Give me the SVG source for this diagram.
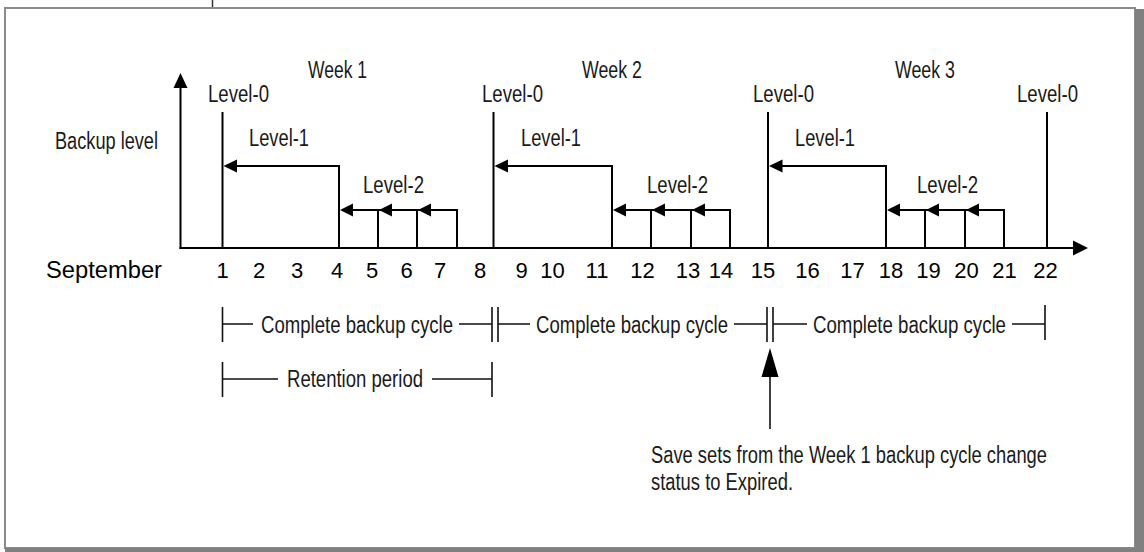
<svg xmlns="http://www.w3.org/2000/svg" width="1144" height="552" viewBox="0 0 1144 552">
<style>
.ln{stroke:#000;stroke-width:2;fill:none}
.ln2{stroke:#111;stroke-width:1.6;fill:none}
.ah{fill:#000;stroke:none}
.c{font-family:"Liberation Sans Narrow","Liberation Sans",Arial,sans-serif;font-size:23px;fill:#1a1a1a}
.n{font-family:"Liberation Sans",Arial,sans-serif;font-size:22px;fill:#000;text-anchor:middle}
</style>
<g id="frame">
<rect x="0" y="0" width="1144" height="552" fill="#fff"/>
<line x1="212.5" y1="0" x2="212.5" y2="7" stroke="#333" stroke-width="1.5"/>
<rect x="5" y="8" width="1130" height="540" fill="#fff" stroke="#8a8a8a" stroke-width="2"/>
<rect x="1135" y="9" width="9" height="543" fill="#808080"/>
<rect x="5" y="548" width="1139" height="4" fill="#808080"/>
</g>
<g id="axes">
<line class="ln" x1="180.5" y1="249" x2="180.5" y2="86"/>
<polygon class="ah" points="180.5,73 173.5,88 187.5,88"/>
<line class="ln" x1="179.5" y1="248" x2="1075" y2="248"/>
<polygon class="ah" points="1088,248 1073,240.5 1073,255.5"/>
<text class="c" x="55" y="149" textLength="103" lengthAdjust="spacingAndGlyphs">Backup level</text>
<text x="46" y="278" font-family="Liberation Sans, Arial, sans-serif" font-size="23" fill="#000" textLength="116" lengthAdjust="spacingAndGlyphs">September</text>
</g>
<g id="days">
<text class="n" x="222.5" y="278">1</text>
<text class="n" x="259" y="278">2</text>
<text class="n" x="297" y="278">3</text>
<text class="n" x="337" y="278">4</text>
<text class="n" x="372" y="278">5</text>
<text class="n" x="406.5" y="278">6</text>
<text class="n" x="440" y="278">7</text>
<text class="n" x="480" y="278">8</text>
<text class="n" x="521.5" y="278">9</text>
<text class="n" x="552.5" y="278">10</text>
<text class="n" x="597" y="278">11</text>
<text class="n" x="642.5" y="278">12</text>
<text class="n" x="688" y="278">13</text>
<text class="n" x="721" y="278">14</text>
<text class="n" x="763" y="278">15</text>
<text class="n" x="807.5" y="278">16</text>
<text class="n" x="852.5" y="278">17</text>
<text class="n" x="891" y="278">18</text>
<text class="n" x="928.5" y="278">19</text>
<text class="n" x="966.5" y="278">20</text>
<text class="n" x="1004.5" y="278">21</text>
<text class="n" x="1045.5" y="278">22</text>
</g>
<g id="week1">
<text class="c" x="308" y="78" textLength="59" lengthAdjust="spacingAndGlyphs">Week 1</text>
<text class="c" x="208" y="102" textLength="61" lengthAdjust="spacingAndGlyphs">Level-0</text>
<text class="c" x="249" y="146" textLength="60" lengthAdjust="spacingAndGlyphs">Level-1</text>
<text class="c" x="363" y="193" textLength="61" lengthAdjust="spacingAndGlyphs">Level-2</text>
</g>
<g id="week2">
<text class="c" x="582" y="78" textLength="60" lengthAdjust="spacingAndGlyphs">Week 2</text>
<text class="c" x="482" y="102" textLength="61" lengthAdjust="spacingAndGlyphs">Level-0</text>
<text class="c" x="521" y="146" textLength="60" lengthAdjust="spacingAndGlyphs">Level-1</text>
<text class="c" x="647" y="193" textLength="61" lengthAdjust="spacingAndGlyphs">Level-2</text>
</g>
<g id="week3">
<text class="c" x="895" y="78" textLength="60" lengthAdjust="spacingAndGlyphs">Week 3</text>
<text class="c" x="753" y="102" textLength="61" lengthAdjust="spacingAndGlyphs">Level-0</text>
<text class="c" x="795" y="146" textLength="60" lengthAdjust="spacingAndGlyphs">Level-1</text>
<text class="c" x="917" y="193" textLength="61" lengthAdjust="spacingAndGlyphs">Level-2</text>
<text class="c" x="1017" y="102" textLength="61" lengthAdjust="spacingAndGlyphs">Level-0</text>
</g>
<g id="connectors">
<line class="ln" x1="222.5" y1="112" x2="222.5" y2="248"/>
<line class="ln" x1="493.5" y1="112" x2="493.5" y2="248"/>
<line class="ln" x1="768" y1="112" x2="768" y2="248"/>
<line class="ln" x1="1047" y1="112" x2="1047" y2="248"/>
<path class="ln" d="M339 248V166H236"/>
<polygon class="ah" points="223.5,166 237,159.5 237,172.5"/>
<path class="ln" d="M612 248V166H507"/>
<polygon class="ah" points="494.5,166 508,159.5 508,172.5"/>
<path class="ln" d="M886 248V166H781"/>
<polygon class="ah" points="769,166 782.5,159.5 782.5,172.5"/>
<path class="ln" d="M457 248V210H352M378 248V210M417 248V210"/>
<polygon class="ah" points="340,210 353,203.5 353,216.5"/>
<polygon class="ah" points="379,210 392,203.5 392,216.5"/>
<polygon class="ah" points="418,210 431,203.5 431,216.5"/>
<path class="ln" d="M730 248V210H625M651 248V210M691 248V210"/>
<polygon class="ah" points="613,210 626,203.5 626,216.5"/>
<polygon class="ah" points="652,210 665,203.5 665,216.5"/>
<polygon class="ah" points="692,210 705,203.5 705,216.5"/>
<path class="ln" d="M1004 248V210H899M925 248V210M965 248V210"/>
<polygon class="ah" points="887,210 900,203.5 900,216.5"/>
<polygon class="ah" points="926,210 939,203.5 939,216.5"/>
<polygon class="ah" points="966,210 979,203.5 979,216.5"/>
</g>
<g id="cycles">
<path class="ln2" d="M222.5 307V342M222.5 324H253M459 324H492M492 307V342M498 307V342M498 324H530M734 324H767M767 307V342M773 307V342M773 324H807M1012 324H1045M1045 305V340"/>
<text class="c" x="261" y="333" textLength="192" lengthAdjust="spacingAndGlyphs">Complete backup cycle</text>
<text class="c" x="536" y="333" textLength="192" lengthAdjust="spacingAndGlyphs">Complete backup cycle</text>
<text class="c" x="813" y="333" textLength="193" lengthAdjust="spacingAndGlyphs">Complete backup cycle</text>
</g>
<g id="retention">
<path class="ln2" d="M222.5 362V397M222.5 379H278M432 379H492M492 362V397"/>
<text class="c" x="287" y="387" textLength="136" lengthAdjust="spacingAndGlyphs">Retention period</text>
</g>
<g id="expiry-note">
<line class="ln2" x1="770" y1="375" x2="770" y2="429"/>
<polygon class="ah" points="770,348 761.5,377 778.5,377"/>
<text class="c" x="651" y="463" textLength="396" lengthAdjust="spacingAndGlyphs">Save sets from the Week 1 backup cycle change</text>
<text class="c" x="651" y="490" textLength="142" lengthAdjust="spacingAndGlyphs">status to Expired.</text>
</g>
</svg>
